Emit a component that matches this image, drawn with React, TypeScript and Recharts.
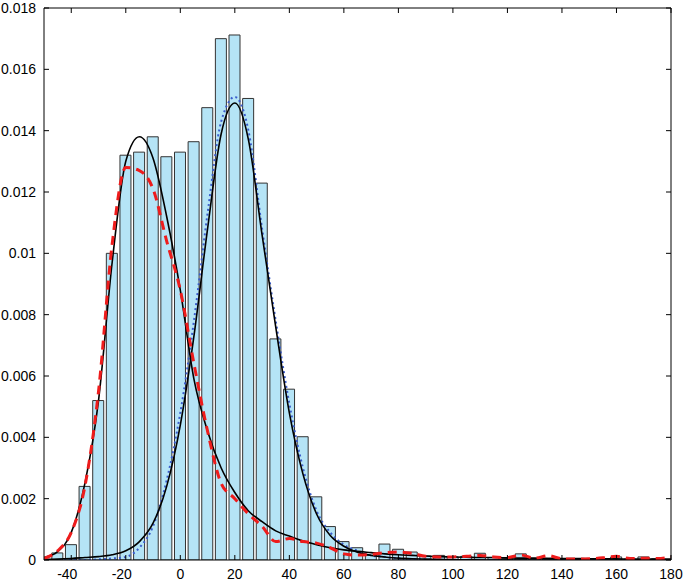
import React from 'react';
import { ComposedChart, Bar, Line, XAxis, YAxis } from 'recharts';

// bin centres (width 5), shared by the histogram and the fitted curves
const binCenters = [
  -50, -45, -40, -35, -30, -25, -20, -15, -10, -5, 0, 5, 10, 15, 20, 25, 30, 35, 40, 45, 50, 55,
  60, 65, 70, 75, 80, 85, 90, 95, 100, 105, 110, 115, 120, 125, 130, 135, 140, 145, 150, 155,
  160, 165, 170, 175, 180,
];

const histDensity = [
  null, 0.00023, 0.0005, 0.0024, 0.0052, 0.01, 0.0132, 0.0133, 0.0138, 0.01315, 0.0133, 0.01364,
  0.01475, 0.017, 0.01712, 0.01505, 0.01229, 0.00721, 0.00557, 0.00402, 0.00206, 0.00109,
  0.0006, 0.0004, 0.00015, 0.00052, 0.00035, 0.00026, 0.00013, 0.00015, 0.0001, 0.00012,
  0.00022, 0.00008, 0.00005, 0.0002, 0.00005, 0.00006, 0.00003, 0.00003, 0.00003, 0.00004,
  0.0001, 0.00003, 0.0001, 0.00004, null,
];

// left component fit (solid black)
const fitLeft = [
  0.00008, 0.00027, 0.0009, 0.0025, 0.0052, 0.0097, 0.013, 0.0138, 0.0131, 0.0112, 0.0088, 0.0059,
  0.0042, 0.003, 0.0022, 0.0016, 0.00125, 0.00095, 0.00078, 0.00062, 0.0005, 0.0004, 0.00033,
  0.00028, 0.00024, 0.0002, 0.00017, 0.00015, 0.00013, 0.00011, 0.0001, 0.00009, 0.00008,
  0.00008, 0.00007, 0.00006, 0.00006, 0.00005, 0.00005, 0.00005, 0.00004, 0.00004, 0.00004,
  0.00003, 0.00003, 0.00003, 0.00003,
];

// right component fit (solid black)
const fitRight = [
  0.00002, 0.00003, 0.00005, 0.00008, 0.00011, 0.00017, 0.0003, 0.0006, 0.0012, 0.0024, 0.0044,
  0.0073, 0.0108, 0.0139, 0.0149, 0.0137, 0.0106, 0.0076, 0.0048, 0.0028, 0.0015, 0.0008,
  0.00045, 0.00025, 0.00015, 0.0001, 0.00006, 0.00004, 0.00003, 0.00002, 0.00001, 0.00001, 0,
  0, 0, 0, 0, 0, 0, 0, 0, 0, 0, 0, 0, 0, 0,
];

// right component, second estimate (blue dotted)
const fitDotted = [
  0, 0, 0, 0, 0.00002, 0.00005, 0.0001, 0.0004, 0.0011, 0.0026, 0.0048, 0.0078, 0.0113, 0.0143,
  0.0151, 0.014, 0.0108, 0.0078, 0.0051, 0.003, 0.0016, 0.0009, 0.0005, 0.0003, 0.00015, 0.0001,
  0.00005, 0.00003, 0.00002, 0.00001, 0, 0, 0, 0, 0, 0, 0, 0, 0, 0, 0, 0, 0, 0, 0, 0, 0,
];

// left component, second estimate (red dashed)
const fitDashed = [
  0.00005, 0.0003, 0.0009, 0.0024, 0.0055, 0.0103, 0.0128, 0.0127, 0.0121, 0.0104, 0.0088,
  0.0064, 0.0042, 0.0025, 0.002, 0.0015, 0.0011, 0.0006, 0.0007, 0.0006, 0.00055, 0.0004,
  0.0002, 0.00016, 0.00018, 0.00024, 0.00026, 0.00022, 0.00012, 0.0001, 0.0001, 0.00012,
  0.00015, 0.0001, 0.00008, 0.00016, 0.00006, 0.00014, 0.00004, 0.00003, 0.00004, 0.00007,
  0.00012, 0.00005, 0.00006, 0.00005, 0.0001,
];

const xTicks = [-40, -20, 0, 20, 40, 60, 80, 100, 120, 140, 160, 180];
const yTicks = [0, 0.002, 0.004, 0.006, 0.008, 0.01, 0.012, 0.014, 0.016, 0.018];

const rows = binCenters.map((x, i) => ({
  x,
  hist: histDensity[i],
  left: fitLeft[i],
  right: fitRight[i],
  dotted: fitDotted[i],
  dashed: fitDashed[i],
}));

const font = 'Liberation Sans, Arial, Helvetica, sans-serif';

const XTick = (props: any) => {
  const { x, y, payload } = props;
  const v = payload.value;
  return (
    <text x={v < 0 ? x - 4 : x} y={y + 14} textAnchor="middle" fontSize={14} fontFamily={font} fill="#000">
      {v}
    </text>
  );
};

export default function App() {
  return (
    <div style={{ position: 'absolute', left: 0, top: 0, width: 686, height: 582, background: '#fff' }}>
      <ComposedChart width={686} height={582} data={rows} margin={{ top: 7, right: 14, bottom: 0, left: 0 }}>
        <XAxis
          dataKey="x"
          type="number"
          domain={[-50, 180]}
          allowDataOverflow
          ticks={xTicks}
          interval={0}
          height={22}
          tickSize={-5}
          tickMargin={10}
          stroke="#000"
          tick={<XTick />}
        />
        <XAxis
          xAxisId="top"
          orientation="top"
          dataKey="x"
          type="number"
          domain={[-50, 180]}
          allowDataOverflow
          ticks={xTicks}
          interval={0}
          height={1}
          tickSize={-5}
          stroke="#000"
          tickFormatter={() => ''}
        />
        <YAxis
          type="number"
          domain={[0, 0.018]}
          allowDataOverflow
          ticks={yTicks}
          interval={0}
          width={44}
          tickSize={-5}
          tickMargin={13}
          stroke="#000"
          tick={{ fill: '#000', fontSize: 14, fontFamily: font }}
        />
        <YAxis
          yAxisId="right"
          orientation="right"
          type="number"
          domain={[0, 0.018]}
          allowDataOverflow
          ticks={yTicks}
          interval={0}
          width={1}
          tickSize={-5}
          stroke="#000"
          tickFormatter={() => ''}
        />
        <Bar dataKey="hist" barSize={11} fill="#b5e4f6" stroke="#333" strokeWidth={1} isAnimationActive={false} />
        <Line type="monotone" dataKey="dotted" stroke="#3a5ccc" strokeWidth={2} strokeDasharray="2 3" dot={false} isAnimationActive={false} />
        <Line type="monotone" dataKey="left" stroke="#000" strokeWidth={1.6} dot={false} isAnimationActive={false} />
        <Line type="monotone" dataKey="right" stroke="#000" strokeWidth={1.6} dot={false} isAnimationActive={false} />
        <Line type="monotone" dataKey="dashed" stroke="#ee1c1c" strokeWidth={3} strokeDasharray="9 6" dot={false} isAnimationActive={false} />
      </ComposedChart>
    </div>
  );
}
